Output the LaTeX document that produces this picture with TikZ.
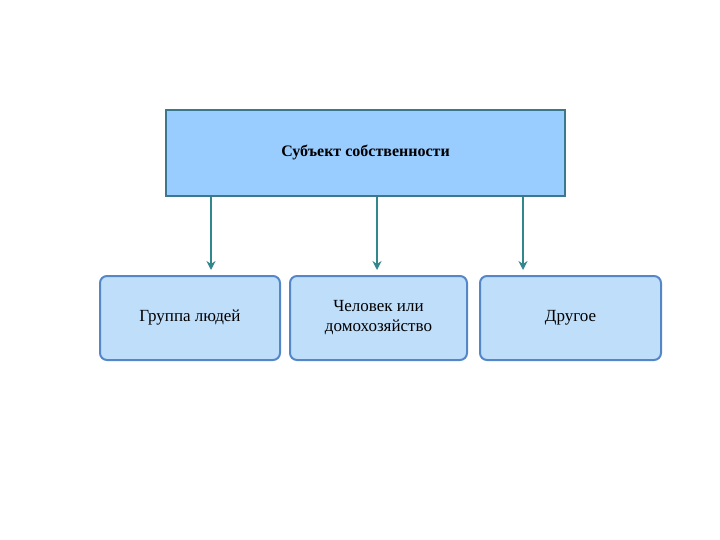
\documentclass[tikz,border=0pt]{standalone}
\usepackage{fontspec}
\setmainfont{Liberation Serif}
\usetikzlibrary{arrows.meta}
\definecolor{topfill}{RGB}{153,204,255}
\definecolor{topdraw}{RGB}{60,120,140}
\definecolor{boxfill}{RGB}{190,222,250}
\definecolor{boxdraw}{RGB}{85,135,200}
\definecolor{arr}{RGB}{50,135,140}
\tikzset{
 topbox/.style={draw=topdraw,fill=topfill,line width=2pt,minimum width=399pt,minimum height=86pt,font=\bfseries\fontsize{16}{18}\selectfont},
 subbox/.style={draw=boxdraw,fill=boxfill,line width=2pt,rounded corners=7pt,minimum height=84pt,align=center,font=\fontsize{17}{20}\selectfont},
 link/.style={draw=arr,line width=2.2pt,-{Stealth[length=9pt,width=9pt]}}
}
\begin{document}
\begin{tikzpicture}[x=1pt,y=-1pt]
\useasboundingbox (0,0) rectangle (720,540);
\node[topbox] (t) at (365.5,153) {Субъект собственности};
\node[subbox,minimum width=180pt] (a) at (190,318) {Группа людей};
\node[subbox,minimum width=177pt] (b) at (378.5,318) {Человек или\\домохозяйство};
\node[subbox,minimum width=181pt] (c) at (570.5,318) {Другое};
\draw[link] (t.south -| 211,0) -- (211,270);
\draw[link] (t.south -| 377,0) -- (377,270);
\draw[link] (t.south -| 523,0) -- (523,270);
\end{tikzpicture}
\end{document}
